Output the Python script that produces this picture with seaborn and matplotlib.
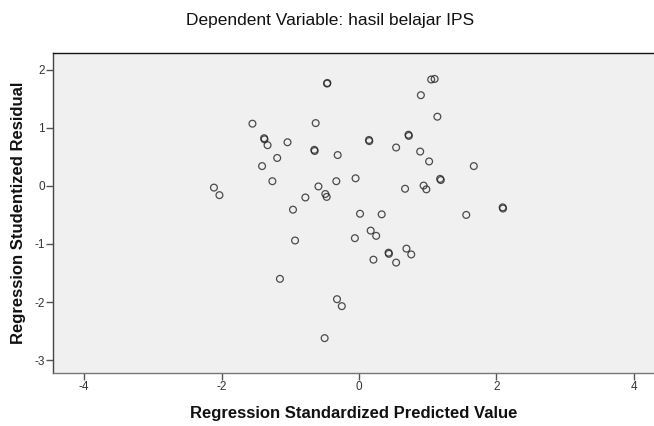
import matplotlib
matplotlib.use("Agg")
import matplotlib.pyplot as plt
import seaborn as sns
import pandas as pd

predicted = [-0.465, -0.46, -1.55, -0.63, -1.38, -1.375, -1.33, -1.04, -0.65, -0.645,
             -0.31, -1.19, -1.41, -1.26, -0.05, -0.33, -0.59, -0.49, -0.47, -0.78,
             -2.11, -2.03, 1.05, 1.10, 0.90, 1.14, 0.145, 0.15, 0.72, 0.725,
             0.54, 0.89, 1.02, 1.67, 1.18, 1.19, 0.67, 0.94, 0.98, 2.09,
             2.095, -0.96, 0.015, 0.33, 1.56, -0.93, -0.06, 0.17, 0.25, 0.43,
             0.435, 0.69, 0.76, 0.21, 0.54, -1.15, -0.32, -0.25, -0.50]
residual = [1.76, 1.77, 1.07, 1.08, 0.82, 0.80, 0.70, 0.75, 0.62, 0.60,
            0.53, 0.48, 0.34, 0.08, 0.13, 0.08, -0.01, -0.14, -0.19, -0.20,
            -0.03, -0.16, 1.83, 1.84, 1.56, 1.19, 0.79, 0.77, 0.88, 0.86,
            0.66, 0.59, 0.42, 0.34, 0.12, 0.10, -0.05, 0.005, -0.06, -0.37,
            -0.39, -0.41, -0.48, -0.49, -0.50, -0.94, -0.90, -0.77, -0.86, -1.15,
            -1.17, -1.08, -1.18, -1.27, -1.32, -1.60, -1.95, -2.07, -2.62]

x_ticks = [-4, -2, 0, 2, 4]
y_ticks = [-3, -2, -1, 0, 1, 2]

title = "Dependent Variable: hasil belajar IPS"
x_label = "Regression Standardized Predicted Value"
y_label = "Regression Studentized Residual"

df = pd.DataFrame({"pred": predicted, "resid": residual})

sns.set_style("white")
plt.rcParams['font.family'] = ['Liberation Sans', 'DejaVu Sans']

fig = plt.figure(figsize=(6.54, 4.26), dpi=100)
ax = fig.add_axes([53/654, 1 - 373/426, 1 - 53/654, (373 - 53)/426])
ax.set_facecolor("#F0F0F0")

sns.scatterplot(data=df, x="pred", y="resid", ax=ax, marker="o", s=24,
                facecolor="none", edgecolor="#222222", linewidth=0.9, alpha=0.8)

ax.set_xlim(-4.451, 4.291)
ax.set_ylim(-3.22, 2.286)
ax.set_xticks(x_ticks)
ax.set_yticks(y_ticks)
ax.set_xticklabels([str(v) for v in x_ticks])
ax.set_yticklabels([str(v) for v in y_ticks])
ax.tick_params(axis="both", direction="out", length=5, width=1, color="#555555",
               labelsize=8.5, labelcolor="#333333", pad=1)
ax.tick_params(axis="x", bottom=True)
ax.tick_params(axis="y", left=True)

for side in ["left", "bottom", "top"]:
    ax.spines[side].set_visible(True)
    ax.spines[side].set_linewidth(1)
ax.spines["top"].set_color("#111111")
ax.spines["left"].set_color("#444444")
ax.spines["bottom"].set_color("#777777")
ax.spines["right"].set_visible(False)

ax.set_xlabel(x_label, fontsize=12, fontweight="bold", color="#111111", labelpad=9)
ax.set_ylabel(y_label, fontsize=12, fontweight="bold", color="#111111", labelpad=6)
fig.text(330/654, 1 - 21/426, title, ha="center", va="center", fontsize=12.5, color="#111111")

fig.savefig("out.png", dpi=100, facecolor="white")
